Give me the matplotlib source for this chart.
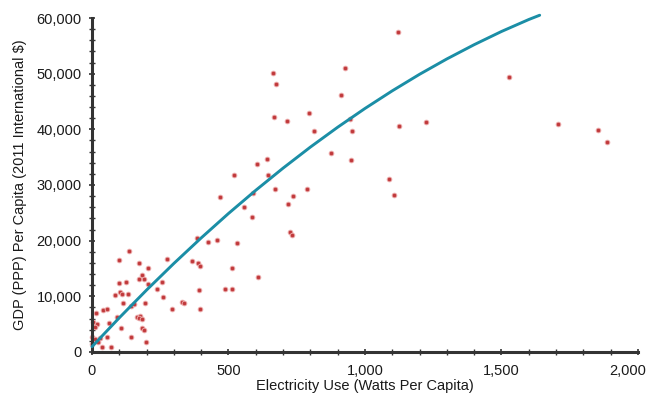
import matplotlib
matplotlib.use("Agg")
import matplotlib.pyplot as plt
from matplotlib.ticker import MultipleLocator, FuncFormatter
from matplotlib.transforms import ScaledTranslation

plt.rcParams['font.family'] = ['Liberation Sans', 'DejaVu Sans']

# Scatter data: electricity use (W per capita) vs GDP per capita
elec = [1122, 664, 674, 927, 911, 667, 714, 794, 812, 946, 954, 1125, 877, 949, 642, 606,
        519, 643, 672, 786, 735, 468, 1088, 1107, 1526, 1223, 1706, 1853, 1885, 719, 558,
        586, 725, 731, 609, 591, 383, 426, 459, 530, 365, 388, 397, 512, 393, 487, 514,
        328, 338, 292, 396, 136, 99, 173, 206, 276, 182, 190, 171, 100, 125, 206, 257,
        239, 261, 84, 103, 109, 133, 115, 143, 155, 194, 14, 41, 56, 5, 17, 62, 90, 166,
        176, 173, 182, 182, 192, 105, 142, 197, 36, 70, 0, 11, 23, 0, 29, 11, 54]
gdp = [57480, 50050, 48130, 51000, 46160, 42200, 41550, 42930, 39640, 41850, 39640, 40530,
       35740, 34480, 34720, 33820, 31840, 31840, 29330, 29330, 27960, 27900, 31130, 28200,
       49330, 41250, 40890, 39870, 37660, 26530, 25990, 24300, 21500, 21010, 13520, 28610,
       20530, 19700, 20170, 19520, 16340, 15930, 15500, 15030, 11130, 11370, 11370, 9040,
       8860, 7720, 7720, 18200, 16520, 15930, 15140, 16650, 13830, 13060, 13170, 12330,
       12570, 12160, 12630, 11260, 9820, 10240, 10830, 10420, 10420, 8860, 8260, 8620, 8740,
       6950, 7540, 7780, 5440, 4970, 5150, 6340, 6340, 6460, 6050, 5930, 4260, 3950, 4260,
       2640, 1850, 840, 960, 2750, 2280, 1850, 1380, 2460, 4540, 2750]

# Trend curve
curve_x = [0, 100, 200, 300, 400, 500, 600, 700, 800, 900, 1000, 1100, 1200, 1300, 1400,
           1500, 1600, 1640]
curve_y = [950, 6140, 11130, 15910, 20490, 24880, 29050, 33030, 36810, 40380, 43750, 46920,
           49890, 52650, 55210, 57580, 59730, 60500]

x_ticks = [0, 500, 1000, 1500, 2000]
y_ticks = [0, 10000, 20000, 30000, 40000, 50000, 60000]

fig = plt.figure(figsize=(6.5, 3.95), dpi=100)
ax = fig.add_axes([0.1415, 0.1089, 0.84, 0.8455])

ax.scatter(elec, gdp, s=11, color='#c0393b', edgecolors='#eaa5a5', linewidths=0.7,
           zorder=2, clip_on=False)
ax.plot(curve_x, curve_y, color='#1b8ea6', lw=2.1, zorder=3, solid_capstyle='round',
        clip_on=False)

ax.set_xlim(0, 2000)
ax.set_ylim(0, 60000)
ax.set_xticks(x_ticks)
ax.set_yticks(y_ticks)
ax.xaxis.set_minor_locator(MultipleLocator(100))
ax.yaxis.set_minor_locator(MultipleLocator(2000))
fmt = FuncFormatter(lambda v, p: f"{int(v):,}")
ax.xaxis.set_major_formatter(fmt)
ax.yaxis.set_major_formatter(fmt)

for side in ['top', 'right']:
    ax.spines[side].set_visible(False)
for side in ['left', 'bottom']:
    ax.spines[side].set_linewidth(2.2)
    ax.spines[side].set_color('#333333')

ax.tick_params(which='major', direction='inout', length=5, width=1.2, color='#333333',
               labelsize=10.5, labelcolor='#1a1a1a')
ax.tick_params(axis='x', which='major', pad=6)
ax.tick_params(axis='y', which='major', pad=5)
ax.tick_params(which='minor', direction='inout', length=4, width=1.0, color='#333333')

ax.set_xlabel('Electricity Use (Watts Per Capita)', fontsize=10.5, color='#1a1a1a',
              labelpad=1)
ax.set_ylabel('GDP (PPP) Per Capita (2011 International $)', fontsize=10.5,
              color='#1a1a1a', labelpad=7)

# keep the last x tick label inside the canvas, as in the reference
fig.canvas.draw()
last = ax.get_xticklabels()[-1]
last.set_transform(last.get_transform() + ScaledTranslation(-10 / 100, 0, fig.dpi_scale_trans))

fig.savefig('out.png', dpi=100)
